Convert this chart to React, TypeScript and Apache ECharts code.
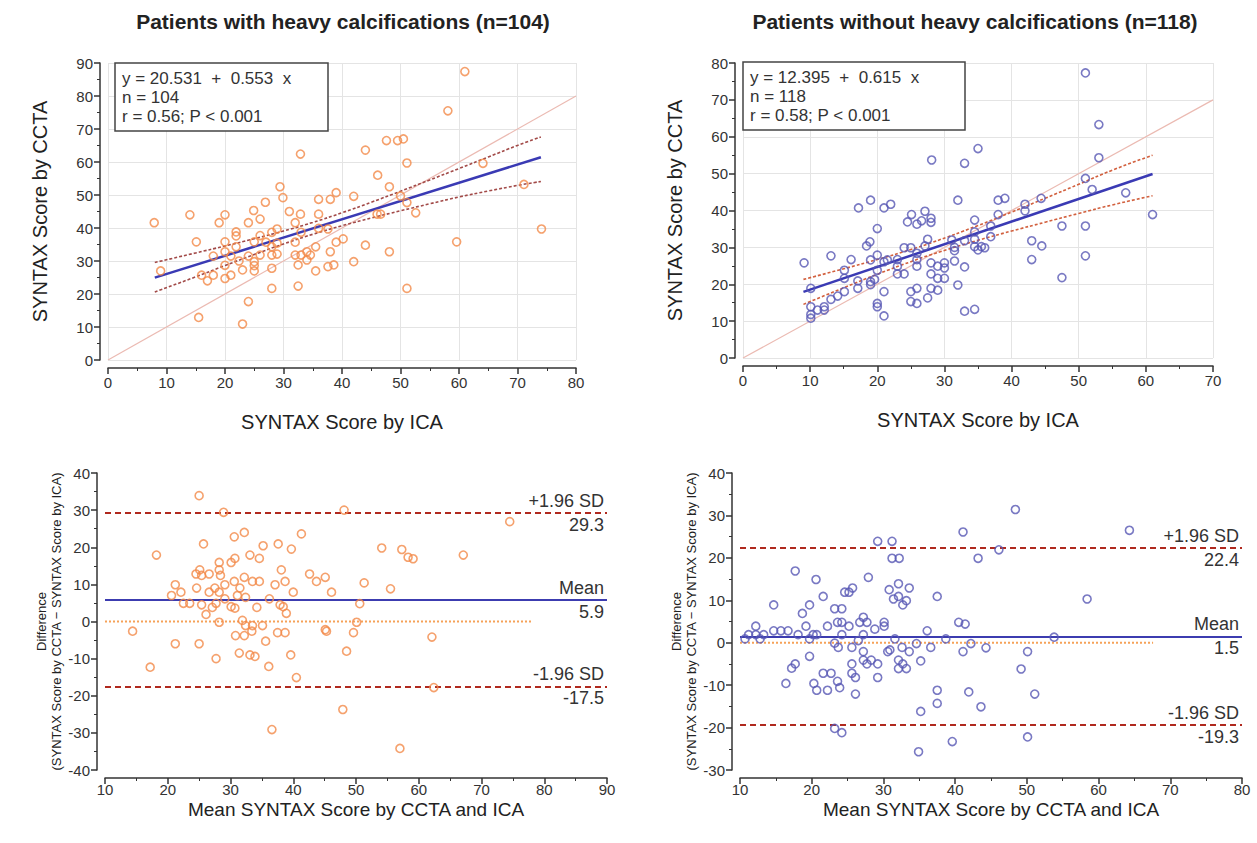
import React, { useEffect, useRef } from "react";
import * as echarts from "echarts";

// ---------- DATA ----------
const TITLES = ["Patients with heavy calcifications (n=104)", "Patients without heavy calcifications (n=118)"];
const EQ_LEFT = ["y = 20.531  +  0.553  x", "n = 104", "r = 0.56; P < 0.001"];
const EQ_RIGHT = ["y = 12.395  +  0.615  x", "n = 118", "r = 0.58; P < 0.001"];

// Top-left scatter: [ICA, CCTA]
const TL_POINTS: [number, number][] = [
  [32.9, 62.4], [29.4, 52.5], [29.9, 49.2], [26.9, 47.8], [24.9, 45.3], [36, 48.7], [38, 48.7], [39, 50.7],
  [31, 45], [32.9, 44.2], [36, 44.2], [14, 44], [20, 44], [61, 87.4], [58.1, 75.5], [44, 63.6], [47.6, 66.5],
  [49.5, 66.5], [50.5, 67], [51.1, 59.7], [46.1, 56], [48.1, 52.5], [42, 49.6], [50, 49.7], [51.1, 47.7],
  [52.6, 44.6], [64.1, 59.6], [71.1, 53.2], [46, 44.2], [46.6, 44.2], [7.9, 41.6], [9, 27], [15.5, 12.9],
  [15.1, 35.8], [16, 25.7], [17, 24], [18, 25.7], [18, 31.5], [19, 41.6], [20, 35.8], [20, 32.8], [20, 28.7],
  [20, 24.7], [21, 25.7], [21, 31.5], [21.9, 38.8], [21.9, 37.6], [21.9, 34.3], [22.4, 30], [23, 27.3],
  [23, 10.9], [24, 41.6], [24, 31.5], [24, 17.7], [25, 35.8], [25, 29.8], [25, 28.6], [25, 27], [26, 42.7],
  [26, 37.7], [26, 31.8], [27, 35.7], [28, 38.7], [28, 34.3], [28, 31.8], [28, 27.8], [28, 21.7], [28.9, 39.7],
  [28.9, 35.4], [28.9, 32.1], [32, 41.6], [32, 35.7], [32, 31.8], [32.5, 28.8], [32.5, 22.4], [33, 38.7],
  [33, 31.8], [34, 32.8], [34, 30.3], [34.6, 31.8], [35.5, 34.3], [35.5, 27], [36, 39.9], [37.6, 39.7],
  [38, 32.8], [37.6, 28.3], [38.6, 28.8], [39, 35.7], [40.2, 36.7], [42, 29.8], [44, 34.8], [48.1, 32.8],
  [59.6, 35.8], [51.1, 21.7], [74.1, 39.7],
];
const TL_REG: [number, number][] = [[8, 24.95], [74, 61.45]];
const TL_UPPER: [number, number][] = [[8, 29.55], [15, 32.45], [20, 34.55], [25, 36.75], [30, 39.08], [35, 41.69], [40, 44.61], [45, 47.81], [50, 51.14], [55, 54.57], [60, 58.02], [65, 61.52], [70, 65.02], [74, 67.6]];
const TL_LOWER: [number, number][] = [[8, 20.6], [15, 25.21], [20, 28.63], [25, 31.97], [30, 35.16], [35, 38.09], [40, 40.69], [45, 43.03], [50, 45.22], [55, 47.33], [60, 49.4], [65, 51.2], [70, 52.9], [74, 54.1]];
const TL_IDENT: [number, number][] = [[0, 0], [80, 80]];

// Top-right scatter
const TR_POINTS: [number, number][] = [
  [28.1, 53.7], [33, 52.8], [35, 56.8], [17.2, 40.7], [19, 42.8], [21, 40.7], [22, 41.7], [25.1, 38.9],
  [27.1, 39.8], [32, 42.8], [51, 77.3], [53, 63.3], [53, 54.3], [51, 48.7], [52, 45.7], [57, 44.8], [38, 42.8],
  [39, 43.3], [42, 41.7], [42, 39.9], [44.4, 43.3], [38, 38.9], [61, 38.9], [9.1, 25.8], [10.1, 18.9],
  [10.1, 13.9], [10.1, 11.8], [10.1, 10.8], [11.1, 13], [12.1, 13.9], [12.1, 13], [13.1, 27.7], [13.1, 15.9],
  [14.1, 16.8], [15.1, 23.8], [15.1, 21.6], [15.1, 18], [16.1, 26.7], [17.1, 20.9], [17.1, 18.9], [18.4, 30.4],
  [18.9, 31.5], [19, 26.6], [19, 20.7], [19, 19.9], [19.6, 21.3], [20, 35.1], [20, 27.9], [20, 23.8], [20, 14.8],
  [20, 13.9], [21, 18], [21, 11.4], [21, 26.1], [21.5, 26.6], [23, 26.7], [23, 24.9], [23, 22.8], [24, 29.9],
  [24, 22.8], [25, 29.9], [25, 18], [25, 15.3], [24.5, 36.9], [25.9, 36.3], [25.9, 28.4], [25.9, 26.7],
  [25.9, 24.9], [25.9, 18.9], [25.9, 14.8], [26.6, 37.2], [27.1, 30.4], [27.5, 32.2], [27.5, 16.3], [28, 37.9],
  [28, 36.8], [28, 25.8], [28, 22.8], [28, 18.9], [29, 24.9], [29, 21.6], [29, 18.4], [30, 25.8], [30, 24.4],
  [30, 21.6], [31.1, 32], [31.5, 30], [31.5, 29.1], [31.5, 26.3], [32, 19.8], [33, 31.8], [33, 24.7], [33, 12.7],
  [34.5, 37.4], [34.5, 34.2], [34.5, 32.2], [34.5, 30.2], [34.5, 13.2], [35, 29.3], [35.5, 30.2], [36, 29.9],
  [36.9, 35.8], [36.9, 32.9], [43, 31.8], [43, 26.7], [44.5, 30.4], [47.5, 35.8], [47.5, 21.8], [51, 35.8],
  [51, 27.7],
];
const TR_REG: [number, number][] = [[9, 17.93], [61, 49.91]];
const TR_UPPER: [number, number][] = [[9, 21.32], [15, 24.19], [20, 26.7], [25, 29.42], [28, 31.22], [35, 35.92], [40, 39.57], [45, 43.31], [50, 47.11], [55, 50.93], [61, 55.0]];
const TR_LOWER: [number, number][] = [[9, 14.54], [15, 19.05], [20, 22.7], [25, 26.12], [28, 28.02], [35, 31.92], [40, 34.43], [45, 36.83], [50, 39.19], [55, 41.51], [61, 44.0]];
const TR_IDENT: [number, number][] = [[0, 0], [70, 70]];

// Bottom-left Bland-Altman: [mean, difference]
const BL_POINTS: [number, number][] = [
  [25.0, 33.9], [28.9, 29.4], [32.2, 24], [30.6, 22.8], [25.7, 20.9], [18.2, 17.9], [35.2, 20.4], [37.6, 20.9],
  [39.7, 19.5], [41.3, 23.6], [33.1, 17.9], [34.6, 17], [30.7, 17], [30.1, 15.9], [28.2, 15.9], [25.1, 13.9],
  [28.2, 13.9], [24.5, 12.8], [25.4, 12.4], [26.6, 12.8], [28.4, 12.4], [38.1, 13.9], [42.6, 12.8], [45.1, 11.9],
  [43.7, 10.8], [38.7, 10.8], [34.6, 10.8], [33.5, 10.8], [30.6, 10.8], [32.2, 11.9], [29.1, 9.9], [37.1, 9.9],
  [21.2, 9.9], [31.5, 9.0], [27.5, 9.0], [24.6, 9.0], [26.6, 7.9], [28.2, 7.9], [22.1, 7.9], [40, 7.9], [46.1, 7.9],
  [20.6, 7.0], [31.1, 7.0], [32.4, 6.5], [29.1, 6.1], [36.2, 6.1], [22.5, 4.9], [23.5, 4.9], [25.4, 4.5],
  [27.1, 3.8], [27.7, 4.9], [30.1, 4.0], [30.7, 3.6], [34.2, 3.8], [37.9, 4.5], [38.4, 4.0], [38.9, 2.2],
  [26.1, 1.9], [50.6, 4.8], [28.2, -0.2], [31.9, 0.3], [32.4, -1.1], [33.5, -1.1], [35.1, -1.1], [32.2, -3.8],
  [30.8, -3.8], [33.4, -2.6], [37.5, -3.0], [38.7, -3.0], [45.1, -2.2], [45.3, -2.6], [14.4, -2.6], [49.6, -3.0],
  [50.1, -0.2], [35.6, -5.3], [21.2, -6.0], [25.0, -6.0], [31.4, -8.5], [33.1, -9.0], [33.9, -9.4], [27.7, -10.0],
  [39.6, -9.0], [48.5, -8.0], [17.2, -12.3], [36.1, -12.1], [40.5, -15.1], [47.9, -23.7], [36.6, -29.1],
  [48.1, 30.0], [74.5, 26.9], [54.1, 19.8], [57.3, 19.4], [58.3, 17.3], [59.1, 16.9], [67.1, 17.9], [51.3, 10.4],
  [55.5, 8.8], [62.1, -4.2], [62.4, -17.8], [57.0, -34.2],
];
const BL_STATS = { mean: 5.9, upper: 29.3, lower: -17.5 };
const BL_ZERO: [number, number][] = [[10, 0], [78, 0]];

// Bottom-right Bland-Altman
const BR_POINTS: [number, number][] = [
  [10.7, 0.9], [11.2, 1.9], [12.2, 3.9], [12.2, 1.9], [12.8, 0.9], [13.3, 1.9], [14.7, 8.9], [14.7, 2.8],
  [15.7, 2.8], [16.7, 2.8], [17.7, 16.9], [18.1, 1.9], [17.7, -5.0], [17.2, -6.0], [16.4, -9.6], [18.7, 6.9],
  [19.2, 3.9], [19.7, 8.9], [19.7, 0.9], [20.2, 1.9], [20.7, 1.9], [20.6, 14.9], [19.7, -3.2], [20.3, -9.6],
  [20.7, -11.2], [21.6, 10.9], [21.6, -7.2], [22.7, -7.2], [22.2, 3.9], [22.2, -11.2], [23.2, -0.1], [23.7, -1.1],
  [23.2, 8.0], [24.2, 8.0], [23.6, 4.8], [24.2, 4.8], [24.2, 1.9], [25.2, 3.9], [23.6, -9.1], [23.9, -10.6],
  [23.2, -20.2], [24.2, -21.2], [24.6, 11.9], [25.2, 11.9], [25.7, 12.9], [25.6, -1.1], [25.6, -5.0], [25.6, -7.2],
  [26.1, -8.2], [26.1, -12.1], [26.5, 0.5], [26.7, 4.8], [27.2, 6.0], [27.2, 1.9], [27.2, -2.1], [27.2, -4.1],
  [27.7, 4.8], [27.7, -5.0], [27.9, 15.4], [28.3, -4.1], [28.8, 3.2], [29.2, -5.0], [29.2, -8.2], [29.2, 23.9],
  [30.1, 4.8], [30.1, 3.9], [30.8, 12.5], [30.6, -2.1], [30.9, -1.7], [31.2, 23.9], [31.2, 19.9], [32.2, 19.9],
  [31.4, 10.3], [32.1, 13.9], [32.1, 10.9], [32.7, 8.9], [31.6, 0.9], [32.1, -4.1], [32.1, -6.1], [32.6, -1.1],
  [32.7, -5.0], [33.2, -6.1], [33.2, 9.9], [33.6, 12.9], [33.6, -2.1], [34.6, -0.2], [35.2, -4.3], [35.2, -16.2],
  [34.9, -25.7], [36.1, 2.8], [36.6, -1.1], [37.5, 10.9], [37.5, -11.2], [37.5, -14.3], [38.7, 0.9], [39.6, -23.3],
  [40.5, 4.8], [41.4, 4.4], [41.1, -2.1], [41.1, 26.1], [41.9, -11.6], [42.2, -0.2], [43.2, 19.9], [43.6, -15.1],
  [44.3, -1.2], [48.4, 31.4], [64.3, 26.5], [46.1, 21.9], [58.4, 10.3], [53.8, 1.3], [50.1, -2.1], [49.2, -6.2],
  [51.1, -12.1], [50.1, -22.2],
];
const BR_STATS = { mean: 1.5, upper: 22.4, lower: -19.3 };
const BR_ZERO: [number, number][] = [[10, 0], [67.6, 0]];

// ---------- STYLE ----------
const FONT = "'Liberation Sans', Arial, sans-serif";
const ORANGE = "#f28a48";
const PURPLE = "#5858b4";
const REG_BLUE = "#3a3ab4";
const CI_RED_L = "#a24a48";
const CI_RED_R = "#d2603e";
const IDENT = "#ebbab2";
const SD_RED = "#b0291e";
const ZERO_OR = "#f6a258";
const AX = "#333";

function axisBase(gridIndex: number, min: number, max: number, interval: number, grid: boolean, margin = 7) {
  return {
    type: "value" as const,
    gridIndex,
    min,
    max,
    interval,
    offset: 8,
    axisLine: { show: true, onZero: false, lineStyle: { color: AX, width: 1.5 } },
    axisTick: { show: true, length: 6, lineStyle: { color: AX, width: 1.5 } },
    minorTick: { show: true, splitNumber: 2, length: 3, lineStyle: { color: AX, width: 1 } },
    axisLabel: { color: "#333", fontSize: 15, fontFamily: FONT, margin },
    splitLine: { show: grid, lineStyle: { color: "#e4e4e4", width: 1 } },
  };
}

function baMarks(stats: { mean: number; upper: number; lower: number }) {
  const lbl = (text: string, pos: string) => ({
    show: true,
    formatter: text,
    position: pos,
    color: "#333",
    fontSize: 18,
    fontFamily: FONT,
    distance: 3,
  });
  const sd = { color: SD_RED, width: 2, type: [6, 4] as any };
  const mn = { color: "#3c3cb0", width: 2, type: "solid" as const };
  const hide = { color: "rgba(255,255,255,0)", width: 0.01 };
  return {
    silent: true,
    symbol: ["none", "none"],
    data: [
      { yAxis: stats.upper, lineStyle: sd, label: lbl("+1.96 SD", "insideEndTop") },
      { yAxis: stats.upper, lineStyle: hide, label: lbl(String(stats.upper), "insideEndBottom") },
      { yAxis: stats.mean, lineStyle: mn, label: lbl("Mean", "insideEndTop") },
      { yAxis: stats.mean, lineStyle: hide, label: lbl(String(stats.mean), "insideEndBottom") },
      { yAxis: stats.lower, lineStyle: sd, label: lbl("-1.96 SD", "insideEndTop") },
      { yAxis: stats.lower, lineStyle: hide, label: lbl(String(stats.lower), "insideEndBottom") },
    ],
  };
}

function scatter(data: [number, number][], idx: number, color: string) {
  return {
    type: "scatter",
    xAxisIndex: idx,
    yAxisIndex: idx,
    data,
    symbol: "circle",
    symbolSize: 8,
    z: 5,
    itemStyle: { color: "rgba(255,255,255,0)", borderColor: color, borderWidth: 1.6 },
  };
}

function line(data: [number, number][], idx: number, color: string, width: number, type: any, smooth = false, z = 3) {
  return {
    type: "line",
    xAxisIndex: idx,
    yAxisIndex: idx,
    data,
    symbol: "none",
    smooth,
    z,
    silent: true,
    lineStyle: { color, width, type },
  };
}

function eqBox(x: number, y: number, w: number, lines: string[]) {
  return {
    type: "group",
    x,
    y,
    children: [
      { type: "rect", shape: { x: 0, y: 0, width: w, height: 68 }, style: { fill: "#fff", stroke: "#444", lineWidth: 1.5 }, z: 10 },
      ...lines.map((t, i) => ({
        type: "text",
        x: 7,
        y: 15.5 + i * 19,
        z: 11,
        style: { text: t, font: `17px ${FONT}`, fill: "#333", align: "left", verticalAlign: "middle", textAlign: "left", textVerticalAlign: "middle" },
      })),
    ],
  };
}

export default function App() {
  const ref = useRef<HTMLDivElement>(null);
  useEffect(() => {
    if (!ref.current) return;
    const chart = echarts.init(ref.current, null, { renderer: "svg" });
    const topName = (text: string, gap: number) => ({
      name: text,
      nameLocation: "middle",
      nameGap: gap,
      nameTextStyle: { fontSize: 20, color: "#222", fontFamily: FONT },
    });
    const botXName = {
      name: "Mean SYNTAX Score by CCTA and ICA",
      nameLocation: "middle",
      nameGap: 22,
      nameMoveOverlap: false,
      nameTextStyle: { fontSize: 19, color: "#222", fontFamily: FONT, verticalAlign: "top" },
    };
    const botYName = {
      name: "Difference\n(SYNTAX Score by CCTA − SYNTAX Score by ICA)",
      nameLocation: "middle",
      nameGap: 31,
      nameTextStyle: { fontSize: 13, color: "#222", fontFamily: FONT, lineHeight: 15 },
    };
    const option: any = {
      animation: false,
      backgroundColor: "#fff",
      grid: [
        { left: 108, top: 63, width: 468, height: 297 },
        { left: 743, top: 63, width: 470, height: 295 },
        { left: 105, top: 473, width: 502, height: 297 },
        { left: 740, top: 473, width: 502, height: 297 },
      ],
      xAxis: [
        { ...axisBase(0, 0, 80, 10, true), ...topName("SYNTAX Score by ICA", 44) },
        { ...axisBase(1, 0, 70, 10, true), ...topName("SYNTAX Score by ICA", 44) },
        { ...axisBase(2, 10, 90, 10, false, 4), ...botXName },
        { ...axisBase(3, 10, 80, 10, false, 4), ...botXName },
      ],
      yAxis: [
        { ...axisBase(0, 0, 90, 10, true), ...topName("SYNTAX Score by CCTA", 50) },
        { ...axisBase(1, 0, 80, 10, true), ...topName("SYNTAX Score by CCTA", 50) },
        { ...axisBase(2, -40, 40, 10, false), ...botYName },
        { ...axisBase(3, -30, 40, 10, false), ...botYName },
      ],
      series: [
        line(TL_IDENT, 0, IDENT, 1.2, "solid"),
        line(TL_UPPER, 0, CI_RED_L, 1.6, [3, 2], true),
        line(TL_LOWER, 0, CI_RED_L, 1.6, [3, 2], true),
        line(TL_REG, 0, REG_BLUE, 2.5, "solid", false, 4),
        scatter(TL_POINTS, 0, ORANGE),
        line(TR_IDENT, 1, IDENT, 1.2, "solid"),
        line(TR_UPPER, 1, CI_RED_R, 1.6, [3, 2], true),
        line(TR_LOWER, 1, CI_RED_R, 1.6, [3, 2], true),
        line(TR_REG, 1, REG_BLUE, 2.5, "solid", false, 4),
        scatter(TR_POINTS, 1, PURPLE),
        { ...line(BL_ZERO, 2, ZERO_OR, 2, "dotted"), markLine: baMarks(BL_STATS) },
        scatter(BL_POINTS, 2, ORANGE),
        { ...line(BR_ZERO, 3, ZERO_OR, 2, "dotted"), markLine: baMarks(BR_STATS) },
        scatter(BR_POINTS, 3, PURPLE),
      ],
      graphic: [
        { type: "text", x: 343, y: 21, style: { text: TITLES[0], font: `bold 21px ${FONT}`, fill: "#222", align: "center", verticalAlign: "middle", textAlign: "center", textVerticalAlign: "middle" } },
        { type: "text", x: 975, y: 21, style: { text: TITLES[1], font: `bold 21px ${FONT}`, fill: "#222", align: "center", verticalAlign: "middle", textAlign: "center", textVerticalAlign: "middle" } },
        eqBox(115, 63, 213, EQ_LEFT),
        eqBox(743, 62, 222, EQ_RIGHT),
      ],
    };
    chart.setOption(option);
    return () => chart.dispose();
  }, []);
  return <div ref={ref} style={{ position: "fixed", left: 0, top: 0, width: 1257, height: 843, background: "#fff" }} />;
}
